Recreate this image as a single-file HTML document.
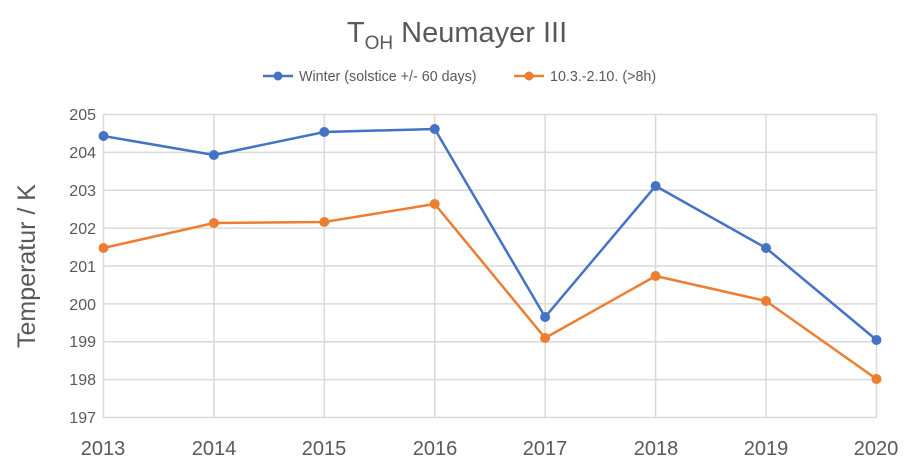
<!DOCTYPE html>
<html><head><meta charset="utf-8"><style>body{margin:0;background:#fff}svg{display:block}</style></head><body>
<svg width="914" height="463" viewBox="0 0 914 463" xmlns="http://www.w3.org/2000/svg" font-family="Liberation Sans, sans-serif">
<rect width="914" height="463" fill="#fff"/>
<text x="457" y="42" text-anchor="middle" font-size="29" fill="#595959">T<tspan font-size="19" dy="7">OH</tspan><tspan dy="-7"> Neumayer III</tspan></text>
<g font-size="14.3" fill="#595959">
<line x1="263" y1="76" x2="293" y2="76" stroke="#4472C4" stroke-width="2.5"/><circle cx="278" cy="76" r="4.5" fill="#4472C4"/>
<text x="299" y="81">Winter (solstice +/- 60 days)</text>
<line x1="514" y1="76" x2="544" y2="76" stroke="#ED7D31" stroke-width="2.5"/><circle cx="529" cy="76" r="4.5" fill="#ED7D31"/>
<text x="550" y="81">10.3.-2.10. (&gt;8h)</text>
</g>
<g stroke="#d9d9d9" stroke-width="1.5" fill="none">
<path d="M103 114.5H877M103 152.4H877M103 190.3H877M103 228.1H877M103 266H877M103 303.9H877M103 341.8H877M103 379.6H877M103 417.5H877"/>
<path d="M103.5 114V417M213.9 114V417M324.3 114V417M434.7 114V417M545.1 114V417M655.6 114V417M766 114V417M876.5 114V417"/>
</g>
<g font-size="16" fill="#595959" text-anchor="end">
<text x="96" y="120">205</text><text x="96" y="158">204</text><text x="96" y="196">203</text><text x="96" y="234">202</text><text x="96" y="272">201</text><text x="96" y="310">200</text><text x="96" y="347">199</text><text x="96" y="385">198</text><text x="96" y="423">197</text>
</g>
<g font-size="20" fill="#595959" text-anchor="middle">
<text x="103" y="455">2013</text><text x="214" y="455">2014</text><text x="324" y="455">2015</text><text x="435" y="455">2016</text><text x="545" y="455">2017</text><text x="656" y="455">2018</text><text x="766" y="455">2019</text><text x="876" y="455">2020</text>
</g>
<text transform="translate(35,266) rotate(-90)" text-anchor="middle" font-size="25" fill="#595959">Temperatur / K</text>
<g fill="#4472C4">
<polyline fill="none" stroke="#4472C4" stroke-width="2.5" points="103.5,136 213.9,155 324.3,132 434.7,129 545.1,317 655.6,186 766,248 876.5,340"/>
<circle cx="103.5" cy="136" r="5"/><circle cx="213.9" cy="155" r="5"/><circle cx="324.3" cy="132" r="5"/><circle cx="434.7" cy="129" r="5"/><circle cx="545.1" cy="317" r="5"/><circle cx="655.6" cy="186" r="5"/><circle cx="766" cy="248" r="5"/><circle cx="876.5" cy="340" r="5"/>
</g>
<g fill="#ED7D31">
<polyline fill="none" stroke="#ED7D31" stroke-width="2.5" points="103.5,248 213.9,223 324.3,222 434.7,204 545.1,338 655.6,276 766,301 876.5,379"/>
<circle cx="103.5" cy="248" r="5"/><circle cx="213.9" cy="223" r="5"/><circle cx="324.3" cy="222" r="5"/><circle cx="434.7" cy="204" r="5"/><circle cx="545.1" cy="338" r="5"/><circle cx="655.6" cy="276" r="5"/><circle cx="766" cy="301" r="5"/><circle cx="876.5" cy="379" r="5"/>
</g>
</svg>
</body></html>
